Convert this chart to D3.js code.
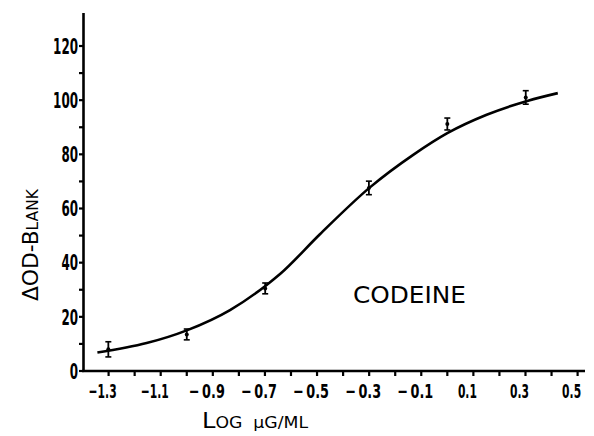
<!DOCTYPE html>
<html><head><meta charset="utf-8">
<script src="https://cdn.jsdelivr.net/npm/d3@7"></script>
<style>
html,body{margin:0;padding:0;background:#fff;}
svg{display:block;}
text{font-family:"Liberation Sans Narrow","DejaVu Sans Condensed","Liberation Sans",sans-serif;fill:#000;}
</style></head>
<body>
<script>
// data
const pointLogDose = [-1.301, -1.0, -0.699, -0.301, 0.0, 0.301];
const pointMean    = [8, 13.5, 30.5, 67.6, 91.2, 101];
const pointErr     = [2.8, 2.0, 2.0, 2.5, 2.2, 2.5];
const curveLogDose = [-1.343, -1.154, -1.0, -0.834, -0.697, -0.642, -0.489, -0.297, -0.131, 0.0, 0.151, 0.310, 0.424];
const curveValue   = [6.8, 10.3, 15.0, 22.5, 31.5, 35.8, 50.5, 67.8, 79.8, 87.8, 94.6, 99.8, 102.6];
const xTickValues  = [-1.3,-1.2,-1.1,-1.0,-0.9,-0.8,-0.7,-0.6,-0.5,-0.4,-0.3,-0.2,-0.1,0.0,0.1,0.2,0.3,0.4,0.5];
const xTickLabels  = ["\u22121.3","\u22121.1","\u2212\u20090.9","\u2212\u20090.7","\u2212\u20090.5","\u2212\u20090.3","\u2212\u20090.1","0.1","0.3","0.5"];
const xLabelValues = [-1.3,-1.1,-0.9,-0.7,-0.5,-0.3,-0.1,0.1,0.3,0.5];
const yTickValues  = [0,10,20,30,40,50,60,70,80,90,100,110,120];
const yLabelValues = [0,20,40,60,80,100,120];
const seriesName   = "CODEINE";

const W = 594, H = 436;
const svg = d3.select("body").append("svg").attr("width", W).attr("height", H);

const x = d3.scaleLinear().domain([-1.3, 0.5]).range([108.6, 577.6]);
const y = d3.scaleLinear().domain([0, 120]).range([371, 46]);

// axes lines
svg.append("line").attr("x1", 83.5).attr("x2", 83.5).attr("y1", 13).attr("y2", 372)
  .attr("stroke","#000").attr("stroke-width",2.6);
svg.append("line").attr("x1", 82).attr("x2", 585).attr("y1", 371).attr("y2", 371)
  .attr("stroke","#000").attr("stroke-width",2.6);

// y ticks
svg.selectAll(".yt").data(yTickValues).enter().append("line")
  .attr("x1", 79).attr("x2", 84).attr("y1", d=>y(d)).attr("y2", d=>y(d))
  .attr("stroke","#000").attr("stroke-width",2.2);
svg.selectAll(".yl").data(yLabelValues).enter().append("text")
  .attr("x", 78).attr("y", d=>y(d)).attr("dy","0.37em")
  .attr("text-anchor","end").attr("font-size",21).attr("font-weight","bold")
  .attr("textLength", d=>String(d).length*8.3).attr("lengthAdjust","spacingAndGlyphs")
  .text(d=>d);

// x ticks
svg.selectAll(".xt").data(xTickValues).enter().append("line")
  .attr("x1", d=>x(d)).attr("x2", d=>x(d)).attr("y1", 370).attr("y2", 376)
  .attr("stroke","#000").attr("stroke-width",2.2);
svg.selectAll(".xl").data(xLabelValues).enter().append("text")
  .attr("x", d=>x(d) - 6).attr("y", 398)
  .attr("text-anchor","middle").attr("font-size",20).attr("font-weight","bold")
  .attr("textLength",(d,i)=> d<0 ? (i<2 ? 28 : 36) : 19).attr("lengthAdjust","spacingAndGlyphs")
  .text((d,i)=>xTickLabels[i]);

// curve
const line = d3.line().x(d=>x(d[0])).y(d=>y(d[1])).curve(d3.curveMonotoneX);
svg.append("path").datum(curveLogDose.map((v,i)=>[v, curveValue[i]]))
  .attr("d", line).attr("fill","none").attr("stroke","#000").attr("stroke-width",2.6);

// points with error bars
const pts = pointLogDose.map((v,i)=>({x:v, m:pointMean[i], e:pointErr[i]}));
const g = svg.selectAll(".pt").data(pts).enter().append("g");
g.append("line").attr("x1",d=>x(d.x)).attr("x2",d=>x(d.x))
  .attr("y1",d=>y(d.m+d.e)).attr("y2",d=>y(d.m-d.e)).attr("stroke","#000").attr("stroke-width",1.8);
g.append("line").attr("x1",d=>x(d.x)-3).attr("x2",d=>x(d.x)+3)
  .attr("y1",d=>y(d.m+d.e)).attr("y2",d=>y(d.m+d.e)).attr("stroke","#000").attr("stroke-width",1.6);
g.append("line").attr("x1",d=>x(d.x)-3).attr("x2",d=>x(d.x)+3)
  .attr("y1",d=>y(d.m-d.e)).attr("y2",d=>y(d.m-d.e)).attr("stroke","#000").attr("stroke-width",1.6);
g.append("circle").attr("cx",d=>x(d.x)).attr("cy",d=>y(d.m)).attr("r",2).attr("fill","#000");

// series label
svg.append("text").attr("x", 353).attr("y", 303).attr("font-size",23)
  .attr("textLength",113).attr("lengthAdjust","spacingAndGlyphs").text(seriesName);

// y axis title
const yt = svg.append("text").attr("transform","translate(38,245) rotate(-90)")
  .attr("text-anchor","middle").attr("font-size",21)
  .attr("textLength",112).attr("lengthAdjust","spacingAndGlyphs");
yt.append("tspan").text("\u0394OD-B");
yt.append("tspan").attr("font-size",15).text("LANK");

// x axis title
const xt = svg.append("text").attr("x", 255).attr("y", 428).attr("text-anchor","middle").attr("font-size",21)
  .attr("textLength",106).attr("lengthAdjust","spacingAndGlyphs");
xt.append("tspan").text("L");
xt.append("tspan").attr("font-size",15).text("OG \u00A0\u03BCG/ML");
</script>
</body></html>
